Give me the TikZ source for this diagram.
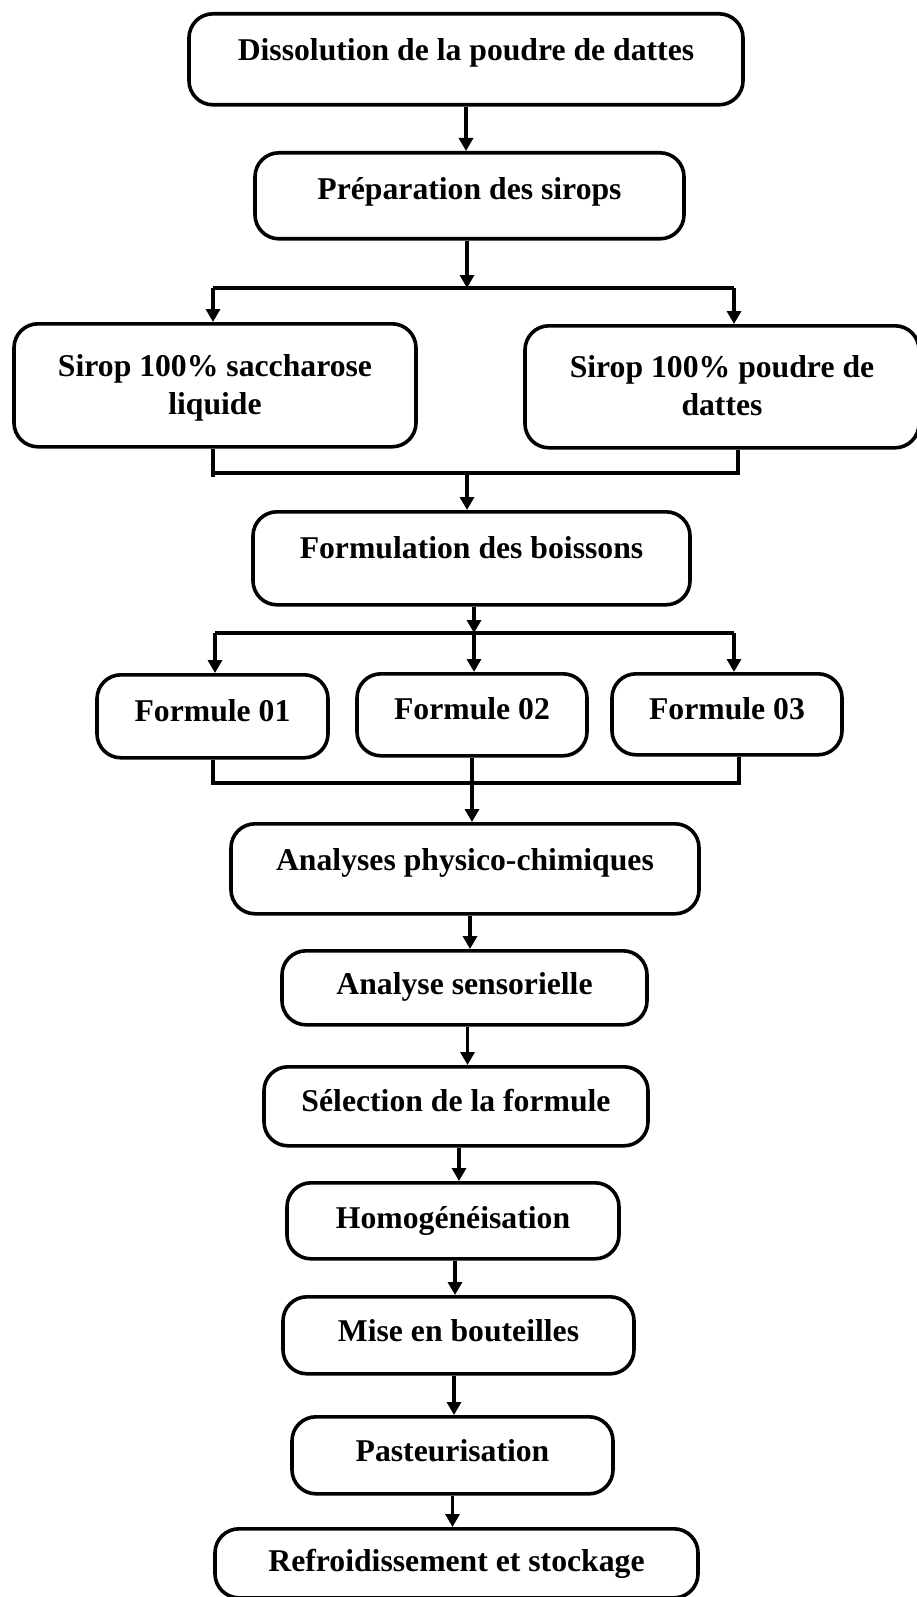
\documentclass[tikz,border=0pt]{standalone}
\usepackage{fontspec}
\setmainfont{Liberation Serif}
\usetikzlibrary{arrows.meta}
\tikzset{
  stepbox/.style={draw, line width=3.6pt, rounded corners=24pt, inner sep=0pt,
    anchor=north, font=\fontsize{31.7}{38}\selectfont\bfseries},
  link/.style={line width=3.6pt},
  arr/.style={line width=3.6pt, -{Triangle[width=14pt,length=13pt]}},
}
\begin{document}
\begin{tikzpicture}[x=1pt,y=1pt]
\useasboundingbox (0,0) rectangle (917,-1597);
% boxes
\node[stepbox, minimum width=554pt, text height=47pt, text depth=44pt] (n1) at (466,-12) {Dissolution de la poudre de dattes};
\node[stepbox, minimum width=429pt, text height=47pt, text depth=39pt] (n2) at (469.5,-151) {Préparation des sirops};
\node[stepbox, minimum width=402pt, text height=53pt, text depth=70pt] (n3) at (215,-322) {\begin{tabular}[t]{@{}c@{}}Sirop 100\% saccharose\\liquide\end{tabular}};
\node[stepbox, minimum width=394pt, text height=52pt, text depth=70pt] (n4) at (722,-324) {\begin{tabular}[t]{@{}c@{}}Sirop 100\% poudre de\\dattes\end{tabular}};
\node[stepbox, minimum width=437pt, text height=47pt, text depth=46pt] (n5) at (471.5,-510) {Formulation des boissons};
\node[stepbox, minimum width=231pt, text height=47pt, text depth=36pt] (n6) at (212.5,-673) {Formule 01};
\node[stepbox, minimum width=230pt, text height=46pt, text depth=36pt] (n7) at (472,-672) {Formule 02};
\node[stepbox, minimum width=230pt, text height=46pt, text depth=35pt] (n8) at (727,-672) {Formule 03};
\node[stepbox, minimum width=468pt, text height=47pt, text depth=43pt] (n9) at (465,-822) {Analyses physico-chimiques};
\node[stepbox, minimum width=365pt, text height=44pt, text depth=30pt] (n10) at (464.5,-949) {Analyse sensorielle};
\node[stepbox, minimum width=384pt, text height=45pt, text depth=34pt] (n11) at (456,-1065) {Sélection de la formule};
\node[stepbox, minimum width=332pt, text height=46pt, text depth=30pt] (n12) at (453,-1181) {Homogénéisation};
\node[stepbox, minimum width=351pt, text height=45pt, text depth=32pt] (n13) at (458.5,-1295) {Mise en bouteilles};
\node[stepbox, minimum width=321pt, text height=45pt, text depth=32pt] (n14) at (452.5,-1415) {Pasteurisation};
\node[stepbox, minimum width=483pt, text height=43pt, text depth=26pt] (n15) at (456.5,-1527) {Refroidissement et stockage};
% junction points
\coordinate (s1l) at (213,-288);
\coordinate (s1r) at (734,-288);
\coordinate (m1l) at (213,-473);
\coordinate (m1r) at (738,-473);
\coordinate (m1c) at (467,-473);
\coordinate (s2l) at (215,-633);
\coordinate (s2c) at (474,-633);
\coordinate (s2r) at (734,-633);
\coordinate (m2l) at (213,-783);
\coordinate (m2c) at (472,-783);
\coordinate (m2r) at (739,-783);
% connectors
\draw[arr] (n1.south) -- (n1.south |- n2.north);
\draw[arr] ([xshift=-2.5pt]n2.south) -- ([xshift=-2.5pt]n2.south |- s1l);
\draw[link] (s1l) -- (s1r);
\draw[arr] (s1l) -- (s1l |- n3.north);
\draw[arr] (s1r) -- (s1r |- n4.north);
\draw[link] ([yshift=-4pt]m1l) -- (m1l |- n3.south);
\draw[link] (m1l) -- (m1r) -- (m1r |- n4.south);
\draw[arr] (m1c) -- (m1c |- n5.north);
\draw[arr] (s2c |- n5.south) -- (s2c);
\draw[link] (s2l) -- (s2r);
\draw[arr] (s2l) -- (s2l |- n6.north);
\draw[arr] (s2c) -- (s2c |- n7.north);
\draw[arr] (s2r) -- (s2r |- n8.north);
\draw[link] ([yshift=-2pt]m2l) -- (m2l |- n6.south);
\draw[link] (m2l) -- (m2r) -- (m2r |- n8.south);
\draw[arr] (m2c |- n7.south) -- (m2c |- n9.north);
\draw[arr] ([xshift=5pt]n9.south) -- ([xshift=5pt]n9.south |- n10.north);
\draw[arr] ([xshift=3pt]n10.south) -- ([xshift=3pt]n10.south |- n11.north);
\draw[arr] ([xshift=3pt]n11.south) -- ([xshift=3pt]n11.south |- n12.north);
\draw[arr] ([xshift=2pt]n12.south) -- ([xshift=2pt]n12.south |- n13.north);
\draw[arr] ([xshift=-4.5pt]n13.south) -- ([xshift=-4.5pt]n13.south |- n14.north);
\draw[arr] (n14.south) -- (n14.south |- n15.north);
\end{tikzpicture}
\end{document}
